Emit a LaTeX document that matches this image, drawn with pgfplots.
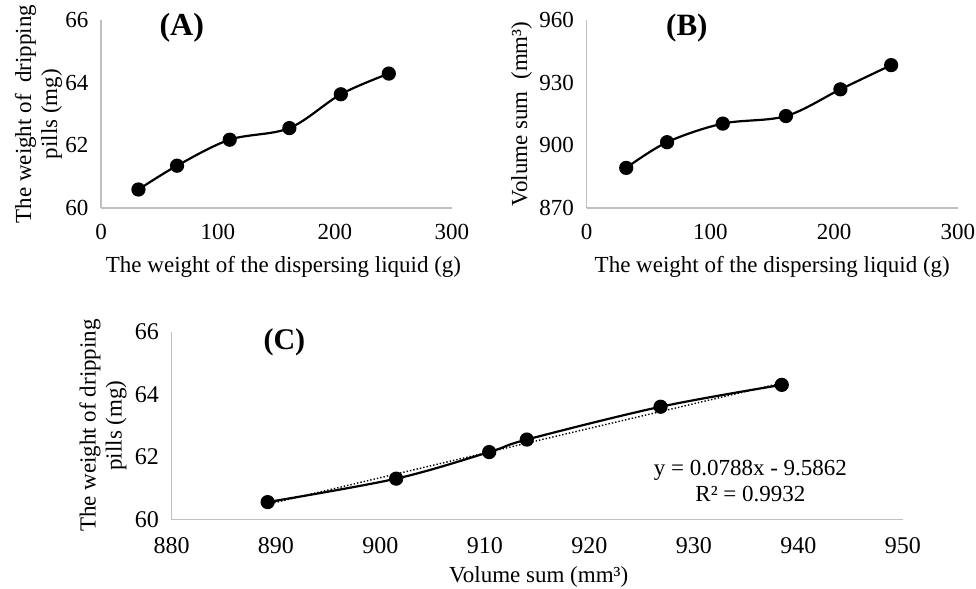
\documentclass[border=0pt]{standalone}
\usepackage{pgfplots}
\pgfplotsset{compat=1.18}
\usepackage{fontspec}
\setmainfont{Liberation Serif}
\definecolor{axgray}{RGB}{191,191,191}
\pgfplotsset{
  panel/.style={
    scale only axis,
    anchor=south west,
    axis lines*=left,
    axis line style={axgray, line width=0.6pt},
    major tick length=0pt,
    tick style={draw=none},
    /pgf/number format/assume math mode=true,
    /pgf/number format/1000 sep={},
    tick label style={font=\fontsize{11.5}{13}\selectfont},
    label style={font=\fontsize{11.5}{13}\selectfont},
    xticklabel style={yshift=-4.5pt},
    yticklabel style={xshift=-2.8pt},
    clip=false,
  },
  dataline/.style={black, line width=1.1pt, smooth, tension=0.55, mark=*, mark size=3pt, mark options={fill=black, solid}},
}
\begin{document}
\begin{tikzpicture}
\path[use as bounding box] (0,0) rectangle (488pt,294.5pt);
% (A)
\begin{axis}[panel,
  at={(50.5pt,190.5pt)}, width=175.5pt, height=94pt,
  xmin=0, xmax=300, ymin=60, ymax=66,
  xtick={0,100,200,300}, ytick={60,62,64,66},
  xlabel={The weight of the dispersing liquid (g)},
  xlabel style={at={(axis description cs:0.52,-0.314)}, anchor=center},
  ylabel={The weight of\ \ dripping\\pills (mg)},
  ylabel style={at={(axis description cs:-0.178,0.5)}, anchor=center, align=center},
]
\addplot[dataline] coordinates {(32,60.59) (65,61.35) (110,62.18) (161,62.55) (205,63.63) (246,64.29)};
\node[font=\bfseries\fontsize{16}{18}\selectfont] at (axis cs:69,65.75) {(A)};
\end{axis}
% (B)
\begin{axis}[panel,
  at={(293.3pt,190.5pt)}, width=185.7pt, height=94pt,
  xmin=0, xmax=300, ymin=870, ymax=960,
  xtick={0,100,200,300}, ytick={870,900,930,960},
  xlabel={The weight of the dispersing liquid (g)},
  xlabel style={at={(axis description cs:0.50,-0.314)}, anchor=center},
  ylabel={Volume sum\ \ (mm³)},
  ylabel style={at={(axis description cs:-0.175,0.5)}, anchor=center},
]
\addplot[dataline] coordinates {(32,889.2) (65,901.5) (110,910.4) (161,914.0) (205,926.8) (246,938.4)};
\node[font=\bfseries\fontsize{15.5}{18}\selectfont] at (axis cs:81,956) {(B)};
\end{axis}
% (C)
\begin{axis}[panel,
  at={(85.75pt,34.85pt)}, width=365.75pt, height=93.8pt,
  xmin=880, xmax=950, ymin=60, ymax=66,
  xtick={880,890,...,950}, ytick={60,62,64,66},
  tick label style={font=\fontsize{12}{14}\selectfont},
  xticklabel style={yshift=-1.3pt},
  xlabel={Volume sum (mm³)},
  xlabel style={at={(axis description cs:0.502,-0.3076)}, anchor=center},
  ylabel={The weight of dripping\\pills (mg)},
  ylabel style={at={(axis description cs:-0.0936,0.5)}, anchor=center, align=center},
]
\addplot[black, densely dotted, line width=0.7pt] coordinates {(889.2,60.48) (938.4,64.36)};
\addplot[dataline] coordinates {(889.2,60.55) (901.5,61.30) (910.4,62.15) (914.0,62.55) (926.8,63.60) (938.4,64.30)};
\node[font=\bfseries\fontsize{15}{18}\selectfont] at (axis cs:890.8,65.65) {(C)};
\node[font=\fontsize{11.5}{13}\selectfont, align=center] at (axis cs:935.4,61.22) {y = 0.0788x - 9.5862\\R² = 0.9932};
\end{axis}
\end{tikzpicture}
\end{document}
